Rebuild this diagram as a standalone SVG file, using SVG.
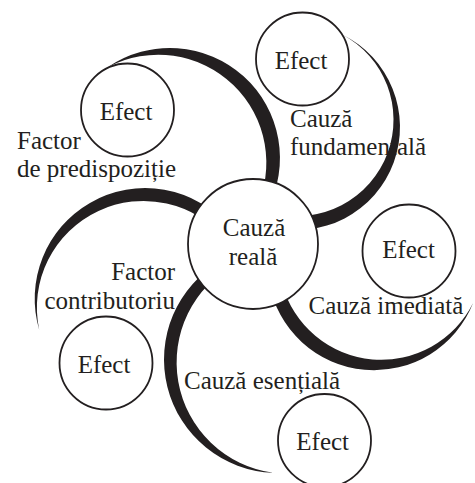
<svg xmlns="http://www.w3.org/2000/svg" width="475" height="483" viewBox="0 0 475 483">
<style>
.sw{fill:#231f20;stroke:none}
.nd{fill:#fff;stroke:#231f20;stroke-width:1.8}
.t{font-family:"Liberation Serif","Times New Roman",serif;font-size:25px;fill:#231f20}
.m{text-anchor:middle}
.e{text-anchor:end}
</style>
<rect width="475" height="483" fill="#fff"/>
<g id="connectors">
<path class="sw" d="M108,67.1 A110,110 0 0 1 243.6,76.3 A110,110 0 0 1 267.1,209.6 L255.4,210.2 A108.1,108.1 0 0 0 233.3,85 A108.1,108.1 0 0 0 108,67.1 Z"/>
<path class="sw" d="M342.6,34.7 A103,103 0 0 1 393.8,162.2 A103,103 0 0 1 270.3,226.5 L272,212.9 A96.5,96.5 0 0 0 387.7,152.7 A96.5,96.5 0 0 0 342.6,34.7 Z"/>
<path class="sw" d="M473.1,303.1 A106.7,106.7 0 0 1 364.7,369.8 A106.7,106.7 0 0 1 268.9,282 L282.1,283.7 A102.7,102.7 0 0 0 372.3,359.4 A102.7,102.7 0 0 0 473.1,303.1 Z"/>
<path class="sw" d="M273.3,472.8 A113.5,113.5 0 0 1 167.4,386.9 A113.5,113.5 0 0 1 220.75,261.1 L235.8,263.9 A111.5,111.5 0 0 0 178.3,381.7 A111.5,111.5 0 0 0 273.3,472.8 Z"/>
<path class="sw" d="M39.25,330 A110.5,110.5 0 0 1 89.95,202.9 A110.5,110.5 0 0 1 229.8,227.6 L225.3,239 A106.7,106.7 0 0 0 98.5,210.9 A106.7,106.7 0 0 0 39.25,330 Z"/>
</g>
<g id="cauza-reala">
<circle class="nd" cx="253" cy="244" r="65"/>
<text class="t m" x="254" y="236">Cauză</text>
<text class="t m" x="253" y="264.5">reală</text>
</g>
<g id="efect-1">
<circle class="nd" cx="302.5" cy="59" r="46.5"/>
<text class="t m" x="301" y="68.5">Efect</text>
</g>
<g id="efect-2">
<circle class="nd" cx="127.5" cy="110" r="46.5"/>
<text class="t m" x="126" y="120">Efect</text>
</g>
<g id="efect-3">
<circle class="nd" cx="409" cy="251" r="46.5"/>
<text class="t m" x="408.5" y="257.5">Efect</text>
</g>
<g id="efect-4">
<circle class="nd" cx="106" cy="363" r="46.5"/>
<text class="t m" x="104" y="373">Efect</text>
</g>
<g id="efect-5">
<circle class="nd" cx="324.5" cy="440.5" r="46.5"/>
<text class="t m" x="322.7" y="449.5">Efect</text>
</g>
<g id="labels">
<text class="t" x="17" y="148.5">Factor</text>
<text class="t" x="17" y="176.5">de predispoziție</text>
<text class="t" x="290" y="127">Cauză</text>
<text class="t" x="290" y="155">fundamentală</text>
<text class="t m" x="386" y="313.5">Cauză imediată</text>
<text class="t e" x="175" y="279.5">Factor</text>
<text class="t e" x="175" y="308.5">contributoriu</text>
<text class="t" x="184" y="388.5">Cauză esențială</text>
</g>
</svg>
